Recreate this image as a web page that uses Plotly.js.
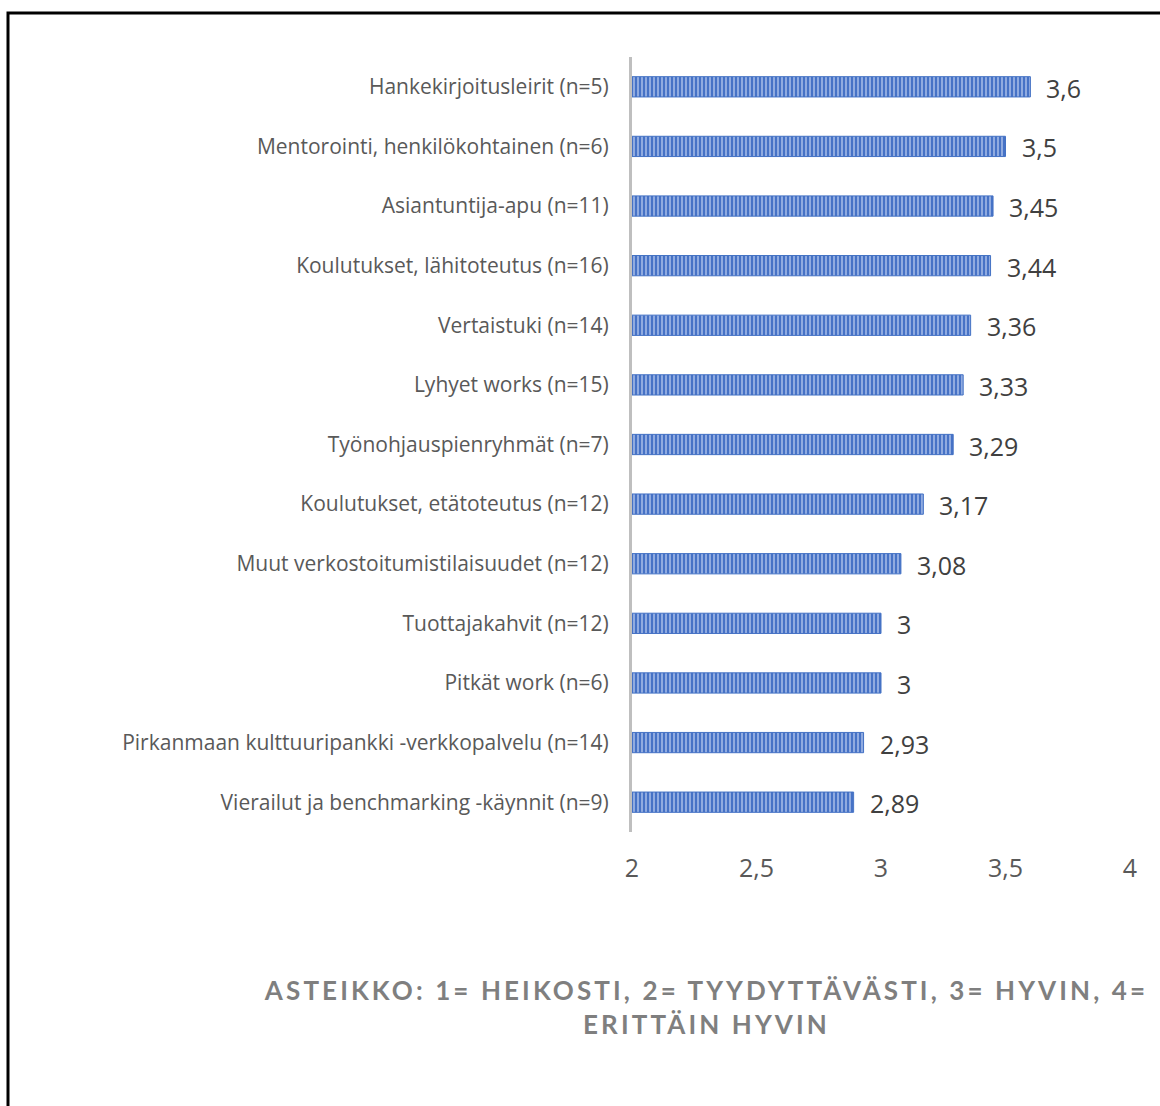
<!DOCTYPE html>
<html>
<head>
<meta charset="utf-8">
<script src="https://cdn.plot.ly/plotly-3.0.1.min.js"></script>
<style>
  html, body { margin: 0; padding: 0; background: #fff; }
  #chart { width: 1160px; height: 1106px; }
  g.annotation[data-index="0"] text.annotation-text { letter-spacing: 3.1px; }
</style>
</head>
<body>
<div id="chart"></div>
<script>
// ---- data ----
const categories = [
  "Hankekirjoitusleirit (n=5)",
  "Mentorointi, henkilökohtainen (n=6)",
  "Asiantuntija-apu (n=11)",
  "Koulutukset, lähitoteutus (n=16)",
  "Vertaistuki (n=14)",
  "Lyhyet works (n=15)",
  "Työnohjauspienryhmät (n=7)",
  "Koulutukset, etätoteutus (n=12)",
  "Muut verkostoitumistilaisuudet (n=12)",
  "Tuottajakahvit (n=12)",
  "Pitkät work (n=6)",
  "Pirkanmaan kulttuuripankki -verkkopalvelu (n=14)",
  "Vierailut ja benchmarking -käynnit (n=9)"
];
const values = [3.6, 3.5, 3.45, 3.44, 3.36, 3.33, 3.29, 3.17, 3.08, 3, 3, 2.93, 2.89];
const tickValues = [2, 2.5, 3, 3.5, 4];
const tickLabels = ["2", "2,5", "3", "3,5", "4"];
const axisTitle = "ASTEIKKO: 1= HEIKOSTI, 2= TYYDYTTÄVÄSTI, 3= HYVIN, 4=<br>ERITTÄIN HYVIN";

// ---- layout geometry (pixels) ----
const W = 1160, H = 1106;
const L = 632, R = 30, T = 57, B = 274;
const pw = W - L - R, ph = H - T - B;
const px2x = p => (p - L) / pw;
const py2y = p => (H - B - p) / ph;

const fmt = v => String(v).replace('.', ',');

const trace = {
  type: 'bar',
  orientation: 'h',
  y: categories,
  x: values,
  base: 0,
  marker: {
    color: '#4a78c8',
    line: { color: '#4472c4', width: 1 },
    pattern: { shape: '|', bgcolor: '#4672c6', fgcolor: '#b0c4ec', size: 4, solidity: 0.35 }
  },
  hoverinfo: 'skip',
  cliponaxis: false
};

const annotations = [{
  xref: 'paper', yref: 'paper',
  x: px2x(706), y: py2y(1007),
  xanchor: 'center', yanchor: 'middle',
  text: axisTitle,
  showarrow: false,
  align: 'center',
  font: { family: 'Lato, sans-serif', size: 26, color: '#7f7f7f', weight: 'bold' }
}];
values.forEach((v, i) => {
  annotations.push({
    xref: 'x', yref: 'y',
    x: v, y: categories[i],
    xanchor: 'left', yanchor: 'middle',
    xshift: 14, yshift: -1,
    text: fmt(v),
    showarrow: false,
    font: { family: 'Open Sans, sans-serif', size: 25, color: '#404040' }
  });
});

const layout = {
  width: W, height: H,
  margin: { l: L, r: R, t: T, b: B, pad: 0 },
  paper_bgcolor: '#ffffff',
  plot_bgcolor: '#ffffff',
  separators: ', ',
  bargap: 0.66,
  showlegend: false,
  font: { family: 'Open Sans, sans-serif', color: '#595959' },
  xaxis: {
    range: [2, 4],
    tickvals: tickValues,
    ticktext: tickLabels,
    showgrid: false,
    zeroline: false,
    showline: false,
    ticks: '',
    ticklabelstandoff: 19,
    tickfont: { family: 'Open Sans, sans-serif', size: 25, color: '#595959' },
    fixedrange: true
  },
  yaxis: {
    type: 'category',
    autorange: 'reversed',
    showgrid: false,
    zeroline: false,
    showline: true,
    linecolor: '#bfbfbf',
    linewidth: 3,
    ticks: '',
    ticklabelstandoff: 16,
    tickfont: { family: 'Open Sans, sans-serif', size: 21, color: '#595959' },
    fixedrange: true
  },
  shapes: [{
    type: 'path',
    xref: 'paper', yref: 'paper',
    path: 'M ' + px2x(8) + ',' + py2y(H + 5) + ' L ' + px2x(8) + ',' + py2y(13) + ' L ' + px2x(W + 5) + ',' + py2y(13),
    line: { color: '#000000', width: 3 }
  }],
  annotations: annotations
};

Plotly.newPlot('chart', [trace], layout, { displayModeBar: false, staticPlot: true });
</script>
</body>
</html>
